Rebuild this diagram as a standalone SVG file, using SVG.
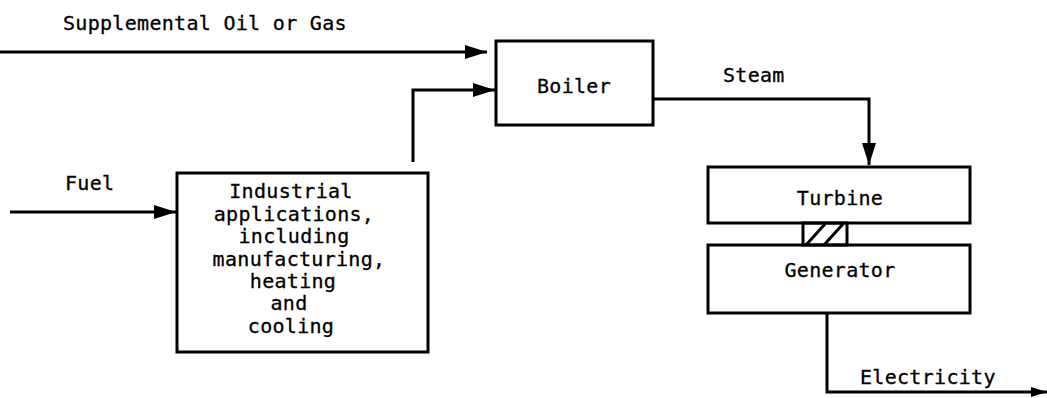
<svg xmlns="http://www.w3.org/2000/svg" width="1047" height="398" viewBox="0 0 1047 398">
<style>
.box{fill:none;stroke:#000;stroke-width:3}
.ln{fill:none;stroke:#000;stroke-width:3}
.t{font-family:"DejaVu Sans Mono","Liberation Mono",monospace;font-size:20px;letter-spacing:0.3px;fill:#000;stroke:#000;stroke-width:0.3}
.c{text-anchor:middle}
</style>
<defs>
<marker id="ah" markerUnits="userSpaceOnUse" markerWidth="24" markerHeight="16" refX="22" refY="7" orient="auto">
<path d="M0,0 L22,7 L0,14 Z" fill="#000"/>
</marker>
<marker id="ahs" markerUnits="userSpaceOnUse" markerWidth="18" markerHeight="12" refX="16" refY="5" orient="auto">
<path d="M0,0 L16,5 L0,10 Z" fill="#000"/>
</marker>
</defs>
<rect width="1047" height="398" fill="#fff"/>
<g id="connectors">
<path class="ln" d="M0,52 L487,52" marker-end="url(#ah)"/>
<path class="ln" d="M413,162 L413,90 L495,90" marker-end="url(#ah)"/>
<path class="ln" d="M10,212 L176,212" marker-end="url(#ah)"/>
<path class="ln" d="M654,99 L869,99 L869,165" marker-end="url(#ah)"/>
<path class="ln" d="M827,314 L827,392 L1047,392" marker-end="url(#ahs)"/>
</g>
<g id="labels">
<text class="t" x="63" y="30">Supplemental Oil or Gas</text>
<text class="t" x="65" y="190">Fuel</text>
<text class="t" x="723" y="82">Steam</text>
<text class="t" x="860" y="384">Electricity</text>
</g>
<g id="boiler">
<rect class="box" x="496" y="41" width="157" height="84"/>
<text class="t c" x="574" y="93">Boiler</text>
</g>
<g id="industrial">
<rect class="box" x="177" y="173" width="251" height="179"/>
<text class="t c" x="291" y="198">Industrial</text>
<text class="t c" x="294" y="221">applications,</text>
<text class="t c" x="294" y="243">including</text>
<text class="t c" x="299" y="266">manufacturing,</text>
<text class="t c" x="293" y="288">heating</text>
<text class="t c" x="289" y="310">and</text>
<text class="t c" x="291" y="333">cooling</text>
</g>
<g id="turbine">
<rect class="box" x="708" y="167" width="262" height="56"/>
<text class="t c" x="840" y="205">Turbine</text>
</g>
<g id="coupling">
<rect class="box" x="803" y="223" width="44" height="22"/>
<path class="ln" d="M806,245 L825,224 M824,245 L843,224" stroke-width="2.5"/>
</g>
<g id="generator">
<rect class="box" x="708" y="245" width="262" height="68"/>
<text class="t c" x="840" y="277">Generator</text>
</g>
</svg>
